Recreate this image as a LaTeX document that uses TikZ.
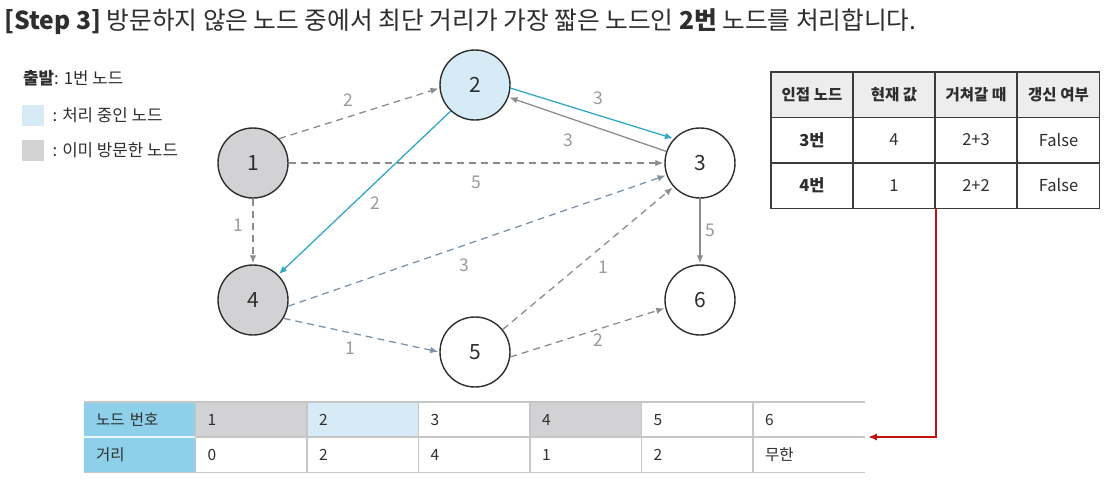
\documentclass[tikz,border=0pt]{standalone}
\usepackage{fontspec}
\setmainfont{Noto Sans CJK KR}
\usepackage{xcolor}
\usepackage{tikz}
\usetikzlibrary{arrows.meta, positioning, calc}
\definecolor{ink}{HTML}{2E2E2E}
\definecolor{visited}{HTML}{D2D2D4}
\definecolor{current}{HTML}{D7EBF6}
\definecolor{pathblue}{HTML}{33A8C6}
\definecolor{edgegray}{HTML}{8C8C8C}
\definecolor{edgeslate}{HTML}{7D93A8}
\definecolor{lblgray}{HTML}{9A9A9A}
\definecolor{headgray}{HTML}{EDEDED}
\definecolor{tblline}{HTML}{3C3C3C}
\definecolor{skyhead}{HTML}{8ECFEA}
\definecolor{gridgray}{HTML}{C6C6C6}
\definecolor{alert}{HTML}{C0120F}
\newcommand{\fs}[1]{\fontsize{#1}{#1}\selectfont}

\begin{document}
\begin{tikzpicture}[x=1pt, y=-1pt,
  vtx/.style={circle, draw=ink, line width=1.4pt, minimum size=70pt,
              inner sep=0pt, font=\fs{21}, text=ink},
  arr/.style={-{Latex[length=8pt, width=6.5pt]}, line width=1.3pt, shorten >=1pt},
  dashedge/.style={arr, draw=edgegray, dash pattern=on 7pt off 5pt},
  solidedge/.style={arr, draw=edgegray},
  pathedge/.style={arr, draw=pathblue},
  wt/.style={font=\fs{17.5}, text=lblgray, inner sep=1pt},
  hcell/.style={draw=tblline, line width=1.5pt, fill=headgray, minimum width=82pt,
                minimum height=45.5pt, inner sep=0pt, font=\fs{15.5}\bfseries, text=ink},
  rcell/.style={hcell, fill=white, font=\fs{16.5}},
  bcell/.style={anchor=north west, minimum height=35pt, inner xsep=12pt, inner ysep=0pt,
                text width=87.5pt, align=left, font=\fs{15.5}, text=ink},
  gridline/.style={draw=gridgray, line width=1.2pt},
  legbox/.style={minimum width=22pt, minimum height=21pt, inner sep=0pt, anchor=north west},
  legtxt/.style={font=\fs{16.8}, text=ink, anchor=west, inner sep=0pt}
]
  \useasboundingbox (0,0) rectangle (1108,480);

  \node[anchor=base west, inner sep=0pt, font=\fs{24.7}, text=ink] (title) at (4,29)
    {\textbf{[Step 3]} 방문하지 않은 노드 중에서 최단 거리가 가장 짧은 노드인 \textbf{2번} 노드를 처리합니다.};

  \node[legtxt] (start) at (23,78) {\textbf{출발}: 1번 노드};
  \node[legbox, fill=current] (lgcur) at (22,105) {};
  \node[legtxt, right=8pt of lgcur] (lgcurtxt) {: 처리 중인 노드};
  \node[legbox, fill=visited] (lgvis) at (22,140) {};
  \node[legtxt, right=8pt of lgvis] (lgvistxt) {: 이미 방문한 노드};

  \node[vtx, fill=visited] (n1) at (253,163) {1};
  \node[vtx, fill=current] (n2) at (475,85) {2};
  \node[vtx] (n3) at (700,163) {3};
  \node[vtx, fill=visited] (n4) at (253,300) {4};
  \node[vtx] (n5) at (475,352) {5};
  \node[vtx] (n6) at (700,300) {6};

  \draw[dashedge] (n1.43) -- node[wt, pos=0.43, yshift=17pt] (w12) {2} (n2.185);
  \draw[dashedge] (n1) -- node[wt, yshift=-19pt] (w13) {5} (n3);
  \draw[dashedge] (n1) -- node[wt, pos=0.4, xshift=-15pt] (w14) {1} (n4);
  \draw[pathedge] (n2.-5) -- node[wt, pos=0.535, yshift=17pt] (w23) {3} (n3.137);
  \draw[solidedge] (n3.161) -- node[wt, pos=0.62, yshift=-22pt] (w32) {3} (n2.-20);
  \draw[pathedge] (n2.227) -- node[wt, pos=0.56, xshift=21pt] (w24) {2} (n4.45);
  \draw[dashedge, draw=edgeslate] (n4.-10) -- node[wt, pos=0.465, yshift=-20pt] (w43) {3} (n3.200);
  \draw[dashedge, draw=edgeslate] (n4.-31) -- node[wt, pos=0.43, yshift=-15pt] (w45) {1} (n5.180);
  \draw[dashedge] (n5.39) -- node[wt, pos=0.59, yshift=-22pt] (w53) {1} (n3.222);
  \draw[dashedge] (n5.-8) -- node[wt, pos=0.565, yshift=-11pt] (w56) {2} (n6.193);
  \draw[solidedge] (n3) -- node[wt, pos=0.48, xshift=10pt] (w36) {5} (n6);

  \foreach \c/\x/\t in {1/812/인접 노드, 2/894/현재 값, 3/976/거쳐갈 때, 4/1058.5/갱신 여부}
    \node[hcell] (h-\c) at (\x,94.5) {\t};
  \foreach \c/\x/\a/\b in {1/812/\textbf{3번}/\textbf{4번}, 2/894/4/1, 3/976/2+3/2+2, 4/1058.5/False/False}
  {
    \node[rcell] (r1-\c) at (\x,140) {\a};
    \node[rcell] (r2-\c) at (\x,185.5) {\b};
  }

  \foreach \c/\f/\t in {0/skyhead/노드 번호, 1/visited/1, 2/current/2, 3/white/3, 4/visited/4, 5/white/5, 6/white/6}
    \node[bcell, fill=\f] (b1-\c) at ({84+111.5*\c},402) {\t};
  \foreach \c/\f/\t in {0/skyhead/거리, 1/white/0, 2/white/2, 3/white/4, 4/white/1, 5/white/2, 6/white/무한}
    \node[bcell, fill=\f] (b2-\c) at ({84+111.5*\c},437) {\t};
  \foreach \r in {1,2}
    \draw[gridline] (b\r-0.north west) -- (b\r-6.north east);
  \draw[gridline] (b2-0.south west) -- (b2-6.south east);
  \draw[white!85!skyhead, line width=1.2pt] (b2-0.north west) -- (b2-0.north east);
  \foreach \c in {1,...,6}
    \draw[gridline] (b1-\c.north west) -- (b2-\c.south west);

  \draw[alert, line width=2pt, -{Latex[length=9pt, width=7pt]}]
    (r2-2.south east) |- ([xshift=3pt]b2-6.north east);
\end{tikzpicture}
\end{document}
